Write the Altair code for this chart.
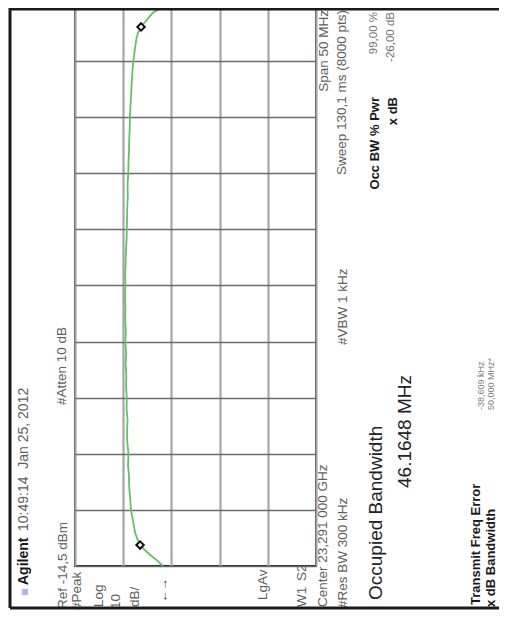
import altair as alt
import pandas as pd

# ---- trace (frequency offset from centre, MHz ; level, dBm)
freq_mhz = [-25.0, -24.5, -24.0, -23.5, -23.13, -22.5, -22.0,
            -21.0, -20.0, -19.0, -18.0, -17.0, -16.0, -15.0, -14.0, -13.0, -12.0, -11.0,
            -10.0, -9.0, -8.0, -7.0, -6.0, -5.0, -4.0, -3.0, -2.0, -1.0, 0.0,
            1.0, 2.0, 3.0, 4.0, 5.0, 6.0, 7.0, 8.0, 9.0, 10.0, 11.0, 12.0, 13.0, 14.0,
            15.0, 16.0, 17.0, 18.0, 19.0, 20.0, 21.0, 22.0, 22.5, 23.04, 23.5, 24.0,
            24.3, 24.8, 25.0]
level_dbm = [-51.0, -48.5, -45.6, -43.1, -41.5, -40.2, -39.4,
             -38.6, -37.7, -37.4, -37.0, -36.9, -36.5, -36.7, -36.2, -36.1, -36.3, -35.9,
             -36.0, -35.7, -35.8, -35.5, -35.7, -35.4, -35.6, -35.3, -35.4, -35.2, -35.4,
             -35.3, -35.5, -35.6, -35.9, -36.0, -36.1, -36.2, -36.4, -36.3, -36.6, -36.7, -36.9, -37.0, -37.2,
             -37.3, -37.5, -37.8, -38.0, -38.3, -38.7, -39.3, -40.0, -40.6, -41.9, -43.6, -45.6,
             -46.8, -51.0, -52.3]
marker_freq_mhz = [-23.13, 23.04]
marker_level_dbm = [-41.5, -41.9]
level_grid_dbm = [-14.5, -24.5, -34.5, -44.5, -54.5, -64.5, -74.5, -84.5, -94.5, -104.5, -114.5]
freq_grid_mhz = [-25, -20, -15, -10, -5, 0, 5, 10, 15, 20]

# ---- texts
t_brand = "Agilent"
t_time = "10:49:14\u00a0\u00a0Jan 25, 2012"
t_ref = "Ref -14,5 dBm"
t_atten = "#Atten 10 dB"
t_peak = "#Peak"
t_log = "Log"
t_ten = "10"
t_dbdiv = "dB/"
t_arrow = "\u2190\u2192"
t_lgav = "LgAv"
t_w1 = "W1"
t_s2 = "S2"
t_center = "Center 23,291 000 GHz"
t_span = "Span 50 MHz"
t_res = "#Res BW 300 kHz"
t_vbw = "#VBW 1 kHz"
t_sweep = "Sweep 130,1 ms (8000 pts)"
t_occ = "Occ BW % Pwr"
t_xdb = "x dB"
t_occ_val = "99,00 %"
t_xdb_val = "-26,00 dB"
t_obw = "Occupied Bandwidth"
t_obw_val = "46.1648 MHz"
t_tfe = "Transmit Freq Error"
t_xbw = "x dB Bandwidth"
t_tfe_val = "-38,609 kHz"
t_xbw_val = "50,000 MHz*"

FONT = "Liberation Sans, Arial, DejaVu Sans, sans-serif"
GREY = "#5e5e5e"
W, H = 241, 558

x_scale = alt.Scale(domain=[-114.5, -14.5], reverse=True, nice=False, zero=False)
y_scale = alt.Scale(domain=[-25, 24.73], nice=False, zero=False)

trace_df = pd.DataFrame({"f": freq_mhz, "a": level_dbm})
trace = alt.Chart(trace_df).mark_line(clip=True, color="#62c268", strokeWidth=1.8).encode(
    x=alt.X("a:Q", scale=x_scale,
            axis=alt.Axis(values=level_grid_dbm, grid=True, gridColor="#a6a6a6", gridWidth=2.2,
                          labels=False, ticks=False, domain=False, title=None)),
    y=alt.Y("f:Q", scale=y_scale,
            axis=alt.Axis(values=freq_grid_mhz, grid=True, gridColor="#6c6c6c", gridWidth=1.4,
                          labels=False, ticks=False, domain=False, title=None)),
    order=alt.Order("f:Q"),
)

markers = alt.Chart(pd.DataFrame({"f": marker_freq_mhz, "a": marker_level_dbm})).mark_point(
    shape="diamond", filled=True, fill="white", stroke="#111", strokeWidth=2, size=55, opacity=1
).encode(x=alt.X("a:Q", scale=x_scale), y=alt.Y("f:Q", scale=y_scale))

one = pd.DataFrame({"k": [0]})


def label(text, x, y, size=13.5, align="left", bold=False, color=GREY):
    return alt.Chart(pd.DataFrame({"t": [text]})).mark_text(
        angle=270, align=align, baseline="middle", font=FONT, fontSize=size,
        fontWeight="bold" if bold else "normal", color=color
    ).encode(text="t:N", x=alt.value(x), y=alt.value(y))


def rule(x, y, x2=None, y2=None, w=3, color="#1a1a1a"):
    enc = {"x": alt.value(x), "y": alt.value(y)}
    if x2 is not None:
        enc["x2"] = alt.value(x2)
    if y2 is not None:
        enc["y2"] = alt.value(y2)
    return alt.Chart(one).mark_rule(strokeWidth=w, color=color).encode(**enc)


texts = [
    label(t_brand, -51, 577, 14, bold=True, color="#1a1a1a"),
    label(t_time, -51, 523, 14),
    label(t_ref, -12, 601),
    label(t_atten, -13, 397),
    label(t_peak, 2, 602),
    label(t_log, 24, 599),
    label(t_ten, 41, 601),
    label(t_dbdiv, 60, 599),
    label(t_arrow, 88, 594, 12, color="#333"),
    label(t_lgav, 188, 592),
    label(t_w1, 227, 599),
    label(t_s2, 227, 573),
    label(t_center, 248, 599),
    label(t_span, 249, 2, align="right"),
    label(t_res, 268, 600),
    label(t_vbw, 268, 337),
    label(t_sweep, 267, 2, align="right"),
    label(t_occ, 300, 89, 13, align="right", bold=True, color="#1a1a1a"),
    label(t_xdb, 318, 89, 13, align="right", bold=True, color="#1a1a1a"),
    label(t_occ_val, 299, 4, 11.5, align="right", color="#707070"),
    label(t_xdb_val, 316, 4, 11.5, align="right", color="#707070"),
    label(t_obw, 301, 592, 19, color="#222"),
    label(t_obw_val, 330, 480, 19, color="#222"),
    label(t_tfe, 401, 597, 13, bold=True, color="#1a1a1a"),
    label(t_xbw, 416, 599, 13, bold=True, color="#1a1a1a"),
    label(t_tfe_val, 406, 402, 9, color="#808080"),
    label(t_xbw_val, 416, 402, 9, color="#808080"),
]

icon = alt.Chart(one).mark_square(size=40, color="#b9b4e2", opacity=1).encode(
    x=alt.value(-50), y=alt.value(584))

frame = [
    rule(-65, 0, y2=600),
    rule(-65, 1, x2=432),
    rule(-65, 600, x2=432),
]

chart = alt.layer(trace, markers, icon, *texts, *frame).properties(
    width=W, height=H,
    padding={"left": 67, "top": 0, "right": 183, "bottom": 47},
    autosize=alt.AutoSizeParams(type="none"),
    background="white",
).configure_view(stroke="#222", strokeWidth=2)

chart.save("out.html", embed_options={"renderer": "svg", "actions": False})
